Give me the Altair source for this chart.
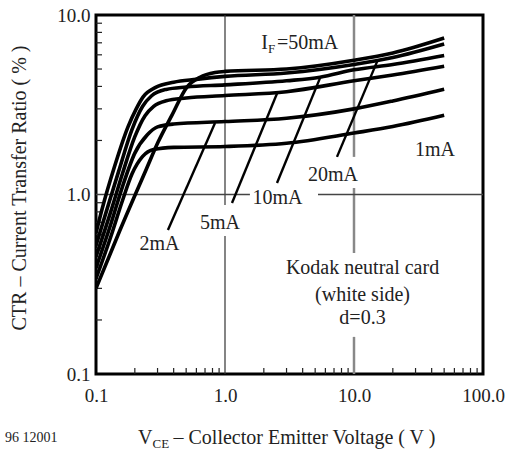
import altair as alt
import pandas as pd

# ---------------- data ----------------
currents = ["1mA", "2mA", "5mA", "10mA", "20mA", "50mA"]

vce_1 = [0.1, 0.13, 0.16, 0.19, 0.23, 0.28, 0.4, 1, 3, 10, 20, 50]
ctr_1 = [0.34, 0.58, 0.92, 1.3, 1.63, 1.78, 1.83, 1.85, 1.93, 2.2, 2.39, 2.76]

vce_2 = [0.1, 0.13, 0.16, 0.2, 0.25, 0.3, 0.4, 1, 3, 10, 20, 50]
ctr_2 = [0.39, 0.68, 1.1, 1.7, 2.15, 2.38, 2.47, 2.55, 2.66, 3.0, 3.32, 3.86]

vce_5 = [0.1, 0.13, 0.16, 0.2, 0.24, 0.28, 0.35, 0.5, 1, 3, 10, 20, 50]
ctr_5 = [0.45, 0.8, 1.3, 2.1, 2.75, 3.1, 3.33, 3.45, 3.56, 3.74, 4.3, 4.63, 5.18]

vce_10 = [0.1, 0.12, 0.15, 0.19, 0.23, 0.27, 0.35, 0.5, 1, 3, 5.45, 10, 20, 50]
ctr_10 = [0.52, 0.8, 1.35, 2.3, 3.1, 3.55, 3.85, 3.97, 4.08, 4.3, 4.5, 4.95, 5.3, 5.95]

vce_20 = [0.1, 0.111, 0.14, 0.177, 0.205, 0.232, 0.29, 0.4, 0.6, 1, 3, 10, 20, 50]
ctr_20 = [0.61, 0.82, 1.45, 2.38, 3.0, 3.5, 3.95, 4.22, 4.38, 4.55, 4.75, 5.3, 5.8, 6.9]

vce_50 = [0.1, 0.153, 0.244, 0.303, 0.388, 0.507, 0.64, 0.837, 1, 3, 10, 20, 50]
ctr_50 = [0.30, 0.63, 1.37, 1.96, 2.77, 3.97, 4.5, 4.78, 4.85, 5.0, 5.6, 6.15, 7.45]

curve_vce = [vce_1, vce_2, vce_5, vce_10, vce_20, vce_50]
curve_ctr = [ctr_1, ctr_2, ctr_5, ctr_10, ctr_20, ctr_50]

# leader lines (label -> curve)
leader_names = ["2mA", "5mA", "10mA", "20mA"]
leader_x0 = [0.361, 1.133, 2.53, 7.38]
leader_y0 = [0.634, 0.897, 1.16, 1.62]
leader_x1 = [0.837, 2.53, 5.45, 15.1]
leader_y1 = [2.5, 3.65, 4.45, 5.5]

# curve labels
label_text = ["2mA", "5mA", "10mA", "20mA", "1mA"]
label_x = [0.3106, 0.915, 2.55, 6.88, 42.4]
label_y = [0.533, 0.698, 0.962, 1.29, 1.77]

note_lines = ["Kodak neutral card", "(white side)", "d=0.3"]
note_x = [11.64, 11.64, 11.64]
note_y = [0.3895, 0.277, 0.205]

if_main = "I"
if_sub = "F"
if_rest = "=50mA"
if_x = [2.024, 2.294, 2.53]
if_y = [6.94, 6.47, 6.94]

# grid segments
vgrid1_x, vgrid1_y0, vgrid1_y1 = [1, 1], [10, 0.587], [0.874, 0.1]
vgrid10_x, vgrid10_y0, vgrid10_y1 = [10, 10, 10], [10, 1.087, 0.161], [1.62, 0.472, 0.1]
hgrid_y, hgrid_x0, hgrid_x1 = [1, 1], [0.1, 5.26], [1.56, 100]

x_minor = [0.2, 0.3, 0.4, 0.5, 0.6, 0.7, 0.8, 0.9, 2, 3, 4, 5, 6, 7, 8, 9,
           20, 30, 40, 50, 60, 70, 80, 90]
y_minor = [0.2, 0.3, 0.4, 0.5, 0.6, 0.7, 0.8, 0.9, 2, 3, 4, 5, 6, 7, 8, 9]
x_ticks = [0.1, 1, 10, 100]
y_ticks = [0.1, 1, 10]

x_title_v = "V"
x_title_sub = "CE"
x_title_rest = "– Collector Emitter Voltage ( V )"
y_title = "CTR – Current Transfer Ratio ( % )"
fig_id = "96 12001"

# ---------------- chart ----------------
W, H = 387, 359
FONT = "Liberation Serif"
xs = alt.Scale(type="log", domain=[0.1, 100], nice=False)
ys = alt.Scale(type="log", domain=[0.1, 10], nice=False)

rows = []
for name, vx, vy in zip(currents, curve_vce, curve_ctr):
    for i, (a, b) in enumerate(zip(vx, vy)):
        rows.append({"IF": name, "VCE": a, "CTR": b, "o": i})
curves_df = pd.DataFrame(rows)

lead_rows = []
for n, a0, b0, a1, b1 in zip(leader_names, leader_x0, leader_y0, leader_x1, leader_y1):
    lead_rows.append({"n": n, "x": a0, "y": b0, "o": 0})
    lead_rows.append({"n": n, "x": a1, "y": b1, "o": 1})
lead_df = pd.DataFrame(lead_rows)

xaxis = alt.Axis(values=x_ticks, format=".1f", title=None, grid=False, ticks=False,
                 domain=False, labelFont=FONT, labelFontSize=19, labelColor="#222",
                 labelPadding=12, labelFlush=False, labelOverlap=False)
yaxis = alt.Axis(values=y_ticks, format=".1f", title=None, grid=False, ticks=False,
                 domain=False, labelFont=FONT, labelFontSize=19, labelColor="#222",
                 labelPadding=6, labelFlush=False, labelOverlap=False)

v1 = alt.Chart(pd.DataFrame({"x": vgrid1_x, "y0": vgrid1_y0, "y1": vgrid1_y1})).mark_rule(
    color="#333", strokeWidth=1.2).encode(
    x=alt.X("x:Q", scale=xs, axis=xaxis), y=alt.Y("y0:Q", scale=ys, axis=yaxis), y2="y1:Q")
v10 = alt.Chart(pd.DataFrame({"x": vgrid10_x, "y0": vgrid10_y0, "y1": vgrid10_y1})).mark_rule(
    color="#888", strokeWidth=2.5).encode(
    x=alt.X("x:Q", scale=xs), y=alt.Y("y0:Q", scale=ys), y2="y1:Q")
hg = alt.Chart(pd.DataFrame({"y": hgrid_y, "x0": hgrid_x0, "x1": hgrid_x1})).mark_rule(
    color="#444", strokeWidth=1.6).encode(
    y=alt.Y("y:Q", scale=ys), x=alt.X("x0:Q", scale=xs), x2="x1:Q")

xt = alt.Chart(pd.DataFrame({"x": x_minor})).mark_rule(color="#222", strokeWidth=1.2).encode(
    x=alt.X("x:Q", scale=xs), y=alt.value(H), y2=alt.value(H - 6))
yt = alt.Chart(pd.DataFrame({"y": y_minor})).mark_rule(color="#222", strokeWidth=1.2).encode(
    y=alt.Y("y:Q", scale=ys), x=alt.value(0), x2=alt.value(6))

lines = alt.Chart(curves_df).mark_line(color="black", strokeWidth=3.6,
                                       interpolate="monotone", clip=True).encode(
    x=alt.X("VCE:Q", scale=xs), y=alt.Y("CTR:Q", scale=ys),
    detail="IF:N", order="o:Q")

leads = alt.Chart(lead_df).mark_line(color="black", strokeWidth=2.4).encode(
    x=alt.X("x:Q", scale=xs), y=alt.Y("y:Q", scale=ys), detail="n:N", order="o:Q")

labels = alt.Chart(pd.DataFrame({"t": label_text, "x": label_x, "y": label_y})).mark_text(
    font=FONT, fontSize=20, color="#222", baseline="middle", align="center").encode(
    x=alt.X("x:Q", scale=xs), y=alt.Y("y:Q", scale=ys), text="t:N")

notes = alt.Chart(pd.DataFrame({"t": note_lines, "x": note_x, "y": note_y})).mark_text(
    font=FONT, fontSize=20, color="#222", baseline="middle", align="center").encode(
    x=alt.X("x:Q", scale=xs), y=alt.Y("y:Q", scale=ys), text="t:N")

if_df = pd.DataFrame({"t": [if_main], "x": [if_x[0]], "y": [if_y[0]]})
if1 = alt.Chart(if_df).mark_text(font=FONT, fontSize=20, color="#222", baseline="middle",
                                 align="center").encode(
    x=alt.X("x:Q", scale=xs), y=alt.Y("y:Q", scale=ys), text="t:N")
if2 = alt.Chart(pd.DataFrame({"t": [if_sub], "x": [if_x[1]], "y": [if_y[1]]})).mark_text(
    font=FONT, fontSize=13, color="#222", baseline="middle", align="center").encode(
    x=alt.X("x:Q", scale=xs), y=alt.Y("y:Q", scale=ys), text="t:N")
if3 = alt.Chart(pd.DataFrame({"t": [if_rest], "x": [if_x[2]], "y": [if_y[2]]})).mark_text(
    font=FONT, fontSize=20, color="#222", baseline="middle", align="left").encode(
    x=alt.X("x:Q", scale=xs), y=alt.Y("y:Q", scale=ys), text="t:N")

one = pd.DataFrame({"k": [0]})
tv = alt.Chart(one).mark_text(font=FONT, fontSize=20, color="#222", align="left",
                              baseline="alphabetic").encode(
    x=alt.value(42), y=alt.value(429), text=alt.value(x_title_v))
tsub = alt.Chart(one).mark_text(font=FONT, fontSize=13, color="#222", align="left",
                                baseline="alphabetic").encode(
    x=alt.value(56.5), y=alt.value(433), text=alt.value(x_title_sub))
trest = alt.Chart(one).mark_text(font=FONT, fontSize=20, color="#222", align="left",
                                 baseline="alphabetic").encode(
    x=alt.value(77.5), y=alt.value(429), text=alt.value(x_title_rest))
ty = alt.Chart(one).mark_text(font=FONT, fontSize=20, color="#222", align="center",
                              baseline="middle", angle=270).encode(
    x=alt.value(-76), y=alt.value(173), text=alt.value(y_title))
tid = alt.Chart(one).mark_text(font=FONT, fontSize=14, color="#222", align="left",
                               baseline="alphabetic").encode(
    x=alt.value(-91), y=alt.value(427), text=alt.value(fig_id))

chart = alt.layer(v1, v10, hg, xt, yt, lines, leads, labels, notes, if1, if2, if3,
                  tv, tsub, trest, ty, tid).properties(
    width=W, height=H,
    padding={"left": 96, "top": 15, "right": 24, "bottom": 78},
    autosize=alt.AutoSizeParams(type="none"),
    background="white",
).configure_view(stroke="black", strokeWidth=3)

chart.save("out.html", embed_options={"renderer": "svg", "actions": False})
